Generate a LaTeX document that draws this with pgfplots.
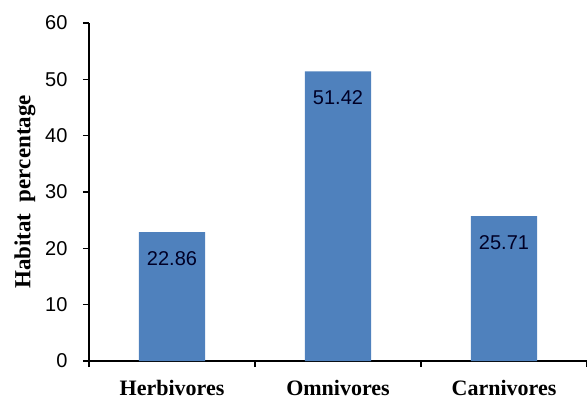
\documentclass[border=0pt]{standalone}
\usepackage{pgfplots}
\pgfplotsset{compat=1.18}
\usepackage{fontspec}
\setmainfont{Liberation Serif}
\newfontfamily\arialf{Liberation Sans}
\definecolor{barblue}{HTML}{4F81BD}
\begin{document}
\begin{tikzpicture}
\path[use as bounding box] (-89bp,-40bp) rectangle (498bp,361bp);
\begin{axis}[
  at={(0,0)}, anchor=south west,
  scale only axis, width=498bp, height=338bp,
  xmin=-0.5, xmax=2.5, ymin=0, ymax=60,
  axis x line=bottom, axis y line=left,
  axis line style={line width=1.3bp, black, -},
  every tick/.style={line width=1.3bp, black},
  tick align=outside,
  xtick={0,1,2}, xticklabels={Herbivores,Omnivores,Carnivores},
  major x tick style={draw=none},
  minor xtick={-0.5,0.5,1.5,2.5},
  minor tick length=6bp,
  major tick length=6bp,
  ytick={0,10,...,60},
  /pgf/number format/assume math mode=true,
  yticklabel style={font=\arialf\fontsize{20bp}{22bp}\selectfont, anchor=east, xshift=-12bp},
  xticklabel style={font=\bfseries\fontsize{22bp}{24bp}\selectfont, anchor=base, yshift=-28bp, inner sep=0pt},
  ylabel={Habitat\ \ percentage},
  ylabel style={font=\bfseries\fontsize{23bp}{24bp}\selectfont, at={(axis description cs:-0.1285,0.5)}, anchor=center, rotate=0},
  ybar, bar width=0.4,
  point meta=explicit symbolic,
  nodes near coords,
  every node near coord/.append style={font=\arialf\fontsize{20bp}{22bp}\selectfont, anchor=center, yshift=-26bp, text=black!85!blue},
]
\addplot[fill=barblue, draw=none] coordinates {(0,22.86) [22.86] (1,51.42) [51.42] (2,25.71) [25.71]};
\end{axis}
\end{tikzpicture}
\end{document}
